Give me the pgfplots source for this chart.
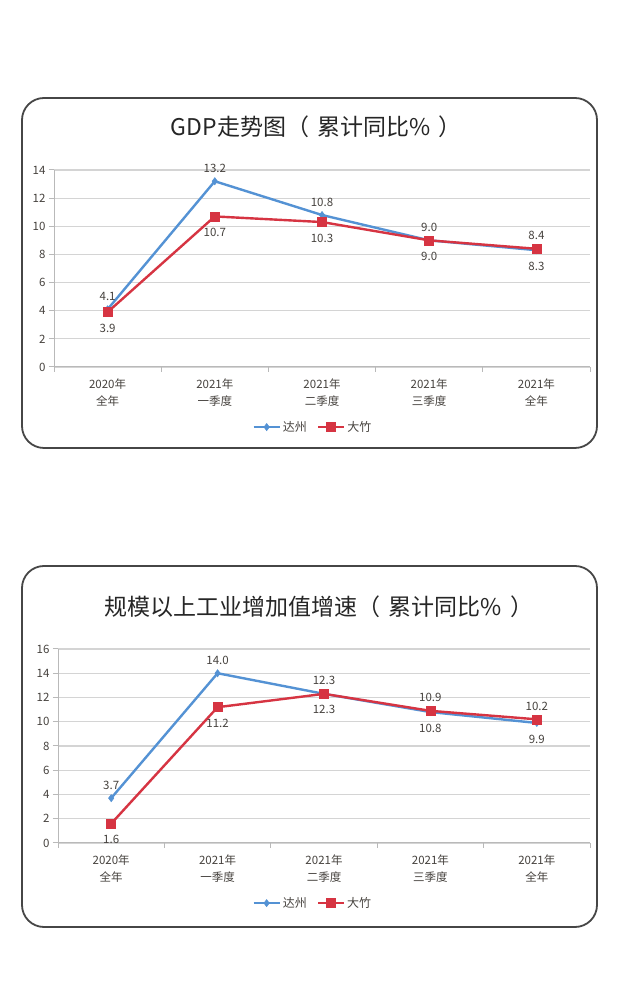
\documentclass[border=0pt]{standalone}
\usepackage{fontspec}
\setmainfont{Noto Sans CJK SC}
\usepackage{pgfplots}
\pgfplotsset{compat=1.18}
\usepackage{pgfplotstable}

\definecolor{dzblue}{RGB}{84,146,212}
\definecolor{dzred}{RGB}{214,52,66}
\definecolor{gridc}{RGB}{212,212,212}
\definecolor{axc}{RGB}{185,185,185}
\definecolor{labc}{RGB}{70,66,62}
\definecolor{framec}{RGB}{70,70,70}

% GDP: pos = 1 label above, -1 label below
\pgfplotstableread{
x y pos
0 4.1 1
1 13.2 1
2 10.8 1
3 9.0 1
4 8.3 -1
}\gdpdz
\pgfplotstableread{
x y pos
0 3.9 -1
1 10.7 -1
2 10.3 -1
3 9.0 -1
4 8.4 1
}\gdpdzh
% industry value added
\pgfplotstableread{
x y pos
0 3.7 1
1 14.0 1
2 12.3 1
3 10.8 -1
4 9.9 -1
}\inddz
\pgfplotstableread{
x y pos
0 1.6 -1
1 11.2 -1
2 12.3 -1
3 10.9 1
4 10.2 1
}\inddzh

\pgfplotsset{
  mychart/.style={
    scale only axis, clip=false,
    xmin=-0.5, xmax=4.5, ymin=0,
    /pgf/number format/assume math mode=true,
    axis lines*=left,
    axis line style={axc, line width=1pt},
    xtick={0,...,4},
    xticklabels={2020年\\全年, 2021年\\一季度, 2021年\\二季度, 2021年\\三季度, 2021年\\全年},
    minor xtick={-0.5,0.5,1.5,2.5,3.5,4.5},
    major x tick style={draw=none},
    minor tick length=5pt,
    major tick length=5pt,
    tick align=outside,
    tick style={axc, line width=1pt},
    ytick distance=2,
    ymajorgrids,
    grid style={gridc, line width=1.2pt},
    tick label style={font=\fontsize{11.5}{17}\selectfont, text=labc},
    xticklabel style={align=center, yshift=-3pt},
    legend columns=2,
    legend style={draw=none, fill=none, font=\fontsize{12}{13}\selectfont, text=labc,
      /tikz/every even column/.append style={column sep=8pt}},
    legend image code/.code={
      \draw[mark repeat=2, mark phase=2] plot coordinates {(0pt,0pt) (13pt,0pt) (26pt,0pt)};},
  },
  dzline/.style={dzblue, line width=2.4pt, mark=diamond*, mark size=3.6pt,
    mark options={solid, fill=dzblue, line width=0.5pt}},
  dzhline/.style={dzred, line width=2.4pt, mark=square*, mark size=4.5pt,
    mark options={solid, fill=dzred, line width=0.5pt}},
  vlabels/.style={
    point meta=y,
    visualization depends on={\thisrow{pos} \as \lpos},
    nodes near coords={\pgfmathprintnumber[fixed, fixed zerofill, precision=1]{\pgfplotspointmeta}},
    nodes near coords style={anchor=center, text=labc, font=\fontsize{11.5}{13}\selectfont,
      yshift={(\lpos>0)*29pt-16pt}},
  },
}

\begin{document}
\begin{tikzpicture}
\fill[white] (0,0) rectangle (640pt,1003pt);
\path[use as bounding box] (0,0) rectangle (640pt,1003pt);

% frames and titles
\draw[framec, line width=1.8pt, rounded corners=22pt] (22pt,555pt) rectangle (597pt,905pt);
\draw[framec, line width=1.8pt, rounded corners=22pt] (22pt,76pt) rectangle (597pt,437pt);
\node[text=black!85, font=\fontsize{23}{26}\selectfont] at (316pt,876pt)
  {GDP走势图（\hspace{8pt}累计同比\%\hspace{8pt}）};
\node[text=black!85, font=\fontsize{23}{26}\selectfont] at (319pt,396pt)
  {规模以上工业增加值增速（\hspace{8pt}累计同比\%\hspace{8pt}）};

\begin{axis}[mychart,
  at={(54pt,636pt)}, anchor=south west, width=536pt, height=197pt,
  ymax=14,
  legend style={at={(axis description cs:0.483,-0.305)}, anchor=center}]
\addplot[dzline, vlabels] table[x=x, y=y] {\gdpdz};
\addlegendentry{达州}
\addplot[dzhline, vlabels] table[x=x, y=y] {\gdpdzh};
\addlegendentry{大竹}
\end{axis}

\begin{axis}[mychart,
  at={(58pt,160pt)}, anchor=south west, width=532pt, height=194pt,
  ymax=16,
  legend style={at={(axis description cs:0.479,-0.31)}, anchor=center}]
\addplot[dzline, vlabels] table[x=x, y=y] {\inddz};
\addlegendentry{达州}
\addplot[dzhline, vlabels] table[x=x, y=y] {\inddzh};
\addlegendentry{大竹}
\end{axis}
\end{tikzpicture}
\end{document}
